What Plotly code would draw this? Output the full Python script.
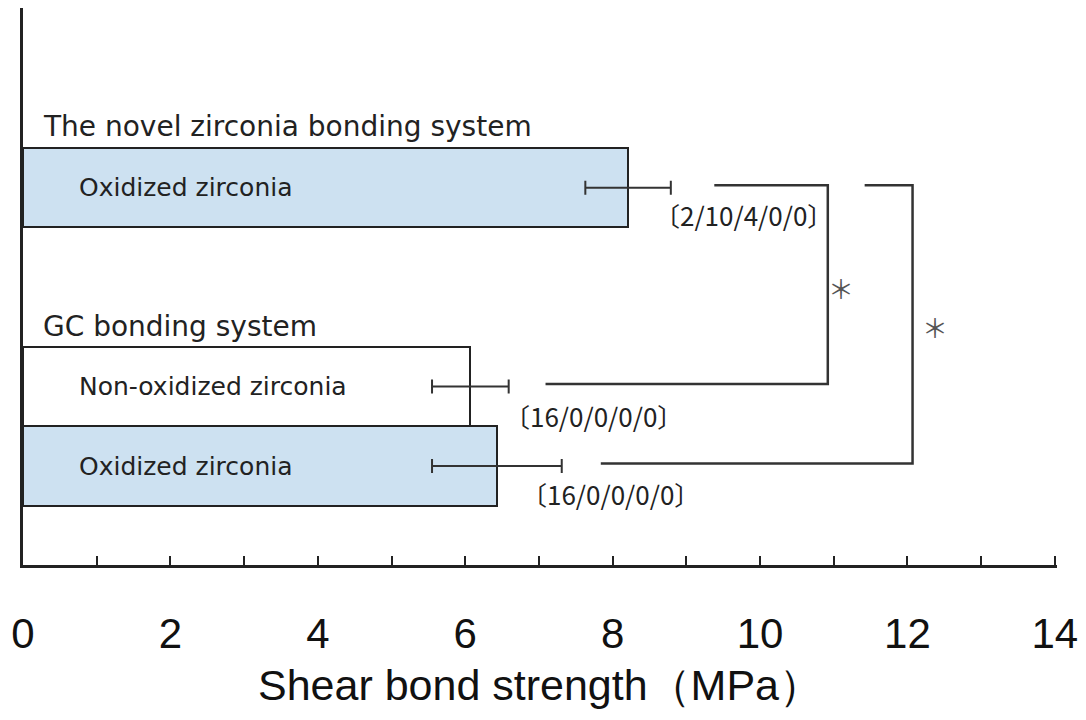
import plotly.graph_objects as go

# ---- data ----
bar_labels = ["Oxidized zirconia", "Non-oxidized zirconia", "Oxidized zirconia"]
bar_pos = [3.5, 1.0, 0.0]
means = [8.21, 6.07, 6.43]
sds = [0.58, 0.52, 0.88]
fills = ["#cde1f1", "#ffffff", "#cde1f1"]
counts = ["〔2/10/4/0/0〕", "〔16/0/0/0/0〕", "〔16/0/0/0/0〕"]
count_x = [8.54, 6.50, 6.73]
count_y = [3.16, 0.64, -0.34]
group_labels = ["The novel zirconia bonding system", "GC bonding system"]
group_y = [4.27, 1.75]
tick_vals = [0, 2, 4, 6, 8, 10, 12, 14]
# brackets: (upper bar idx, lower bar idx, upper start x, vertical x, lower start x, star x, star y)
brackets = [
    (0, 1, 9.38, 10.92, 7.09, 11.10, 2.24),
    (0, 2, 11.42, 12.07, 7.84, 12.37, 1.76),
]

fig = go.Figure()
fig.add_trace(go.Bar(
    x=means, y=bar_pos, orientation="h", width=1.0,
    marker=dict(color=fills, line=dict(color="#222222", width=2)),
    error_x=dict(type="data", array=sds, visible=True, color="#333333",
                 thickness=2, width=7),
    showlegend=False, hoverinfo="skip",
))

line_style = dict(color="#333333", width=2.5)
for (iu, il, xs_u, xv, xs_l, sx, sy) in brackets:
    yu = bar_pos[iu] + 0.03
    yl = bar_pos[il] + 0.03
    fig.add_shape(type="path",
                  path=f"M {xs_u} {yu} L {xv} {yu} L {xv} {yl} L {xs_l} {yl}",
                  line=line_style, xref="x", yref="y")
    fig.add_annotation(x=sx, y=sy, text="＊", showarrow=False,
                       font=dict(family="Noto Sans CJK JP", size=26, color="#555555"),
                       xanchor="center", yanchor="middle")

for lbl, yp in zip(bar_labels, bar_pos):
    fig.add_annotation(x=0.73, y=yp, text=lbl, showarrow=False, xanchor="left",
                       yanchor="middle",
                       font=dict(family="DejaVu Sans", size=25, color="#222222"))

for txt, cx, cy in zip(counts, count_x, count_y):
    fig.add_annotation(x=cx, y=cy, text=txt, showarrow=False, xanchor="left",
                       yanchor="middle",
                       font=dict(family="Noto Sans CJK JP", size=26, color="#222222"))

for txt, gy in zip(group_labels, group_y):
    fig.add_annotation(x=0.24, y=gy, text=txt, showarrow=False, xanchor="left",
                       yanchor="middle",
                       font=dict(family="DejaVu Sans", size=28, color="#222222"))

fig.update_layout(
    width=1078, height=704,
    margin=dict(l=15, r=29, t=0, b=147),
    plot_bgcolor="white", paper_bgcolor="white",
    bargap=0,
)
fig.update_xaxes(
    range=[0, 14.03], tickvals=tick_vals, ticktext=[str(v) for v in tick_vals],
    automargin=False, ticklabeloverflow="allow",
    showline=True, linecolor="#222222", linewidth=2.5,
    ticks="inside", ticklen=9, tickwidth=2, tickcolor="#222222",
    minor=dict(dtick=1, ticks="inside", ticklen=9, tickwidth=2, tickcolor="#222222"),
    showgrid=False, zeroline=False,
    tickfont=dict(family="Liberation Sans", size=42, color="#111111"),
    ticklabelstandoff=30,
    title=dict(text="Shear bond strength（MPa）",
               font=dict(family="Liberation Sans", size=43, color="#111111"),
               standoff=14),
)
fig.update_yaxes(
    range=[-1.245, 5.76], automargin=False,
    showline=True, linecolor="#222222", linewidth=2.5,
    showticklabels=False, ticks="", showgrid=False, zeroline=False,
)

fig.write_html("out.html")
